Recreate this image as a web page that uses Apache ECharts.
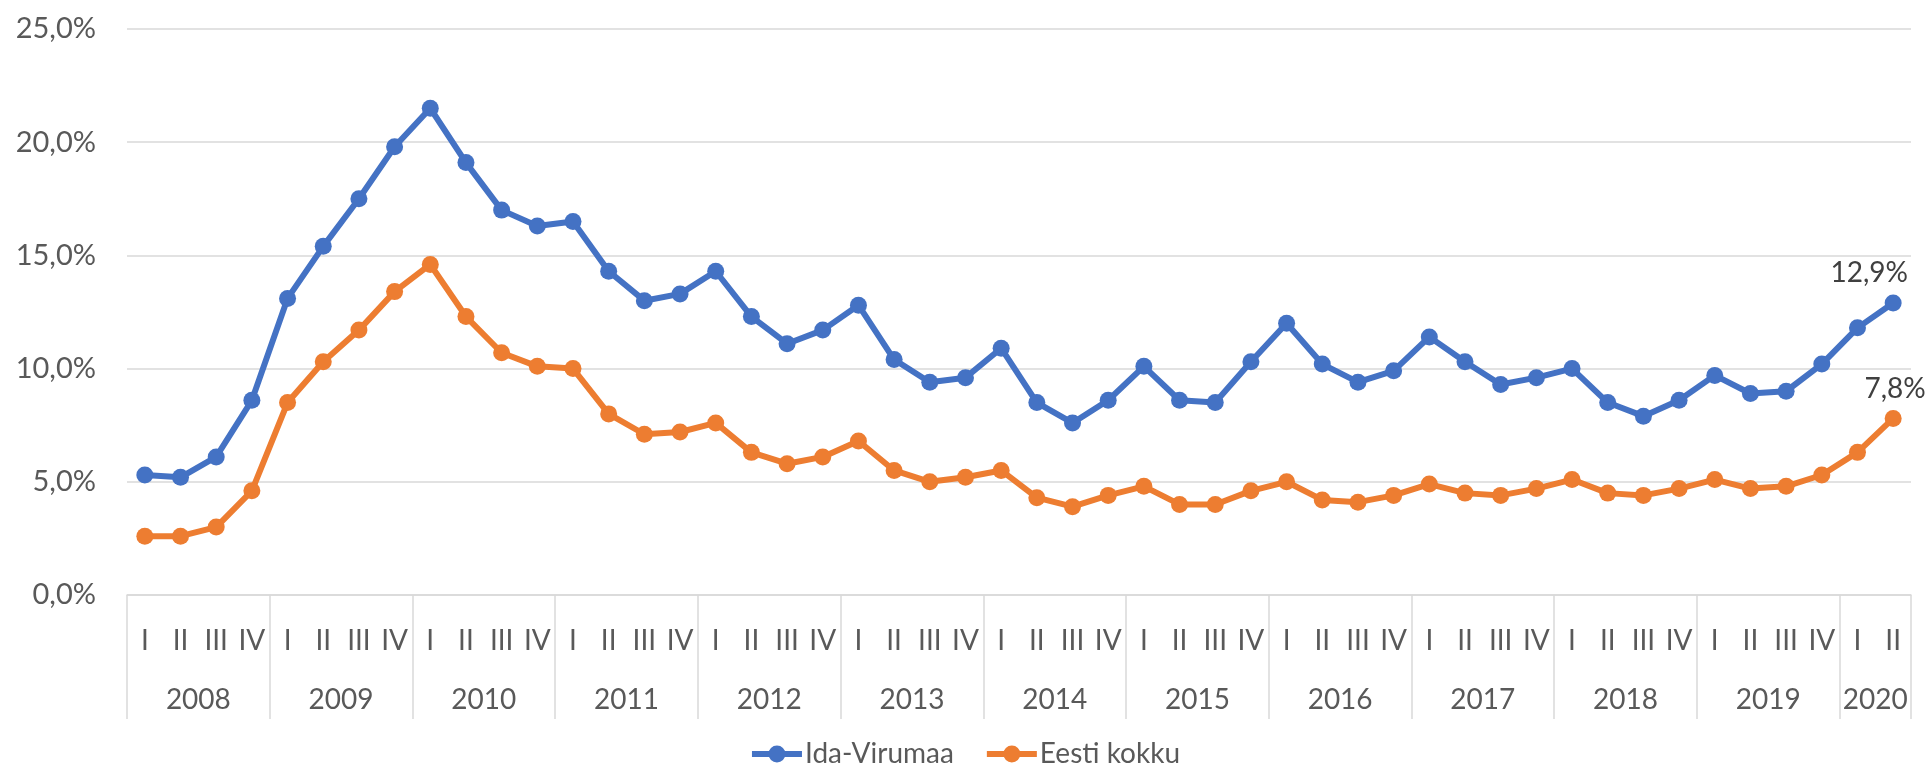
<!DOCTYPE html>
<html>
<head>
<meta charset="utf-8">
<script src="https://cdn.jsdelivr.net/npm/echarts@6/dist/echarts.min.js"></script>
<style>
html,body{margin:0;padding:0;background:#fff;}
#c{width:1932px;height:771px;}
</style>
</head>
<body>
<div id="c"></div>
<script>
const years = ['2008','2009','2010','2011','2012','2013','2014','2015','2016','2017','2018','2019','2020'];
const quarterNames = ['I','II','III','IV'];
const idaVirumaa = [
  5.3, 5.2, 6.1, 8.6,
  13.1, 15.4, 17.5, 19.8,
  21.5, 19.1, 17.0, 16.3,
  16.5, 14.3, 13.0, 13.3,
  14.3, 12.3, 11.1, 11.7,
  12.8, 10.4, 9.4, 9.6,
  10.9, 8.5, 7.6, 8.6,
  10.1, 8.6, 8.5, 10.3,
  12.0, 10.2, 9.4, 9.9,
  11.4, 10.3, 9.3, 9.6,
  10.0, 8.5, 7.9, 8.6,
  9.7, 8.9, 9.0, 10.2,
  11.8, 12.9
];
const eestiKokku = [
  2.6, 2.6, 3.0, 4.6,
  8.5, 10.3, 11.7, 13.4,
  14.6, 12.3, 10.7, 10.1,
  10.0, 8.0, 7.1, 7.2,
  7.6, 6.3, 5.8, 6.1,
  6.8, 5.5, 5.0, 5.2,
  5.5, 4.3, 3.9, 4.4,
  4.8, 4.0, 4.0, 4.6,
  5.0, 4.2, 4.1, 4.4,
  4.9, 4.5, 4.4, 4.7,
  5.1, 4.5, 4.4, 4.7,
  5.1, 4.7, 4.8, 5.3,
  6.3, 7.8
];
const yTicks = [0, 5, 10, 15, 20, 25];

// build category list: one entry per quarter
const cats = [];
const yearOfCat = [];
years.forEach(function (y) {
  quarterNames.forEach(function (q) {
    if (cats.length < idaVirumaa.length) { cats.push(q); yearOfCat.push(y); }
  });
});
// index where the year label is drawn (left of group centre)
const yearLabelIdx = {};
years.forEach(function (y) {
  const idx = [];
  yearOfCat.forEach(function (yy, i) { if (yy === y) idx.push(i); });
  yearLabelIdx[idx[Math.floor((idx.length - 1) / 2)]] = y;
});

const fmt = function (v) { return v.toFixed(1).replace('.', ',') + '%'; };
const FONT = 'Lato';
const TXT = '#595959';
const GRID = '#D9D9D9';
const LEGEND_ICON = 'path://M0,5.5H50V11.5H0Z M16.5,8.5A8.5,8.5 0 1,1 33.5,8.5A8.5,8.5 0 1,1 16.5,8.5Z';

const chart = echarts.init(document.getElementById('c'));
const n = cats.length;
chart.setOption({
  backgroundColor: '#fff',
  animation: false,
  textStyle: { fontFamily: FONT },
  grid: { left: 127, right: 21, top: 29, bottom: 176 },
  legend: {
    top: 735,
    left: 'center',
    itemWidth: 50,
    itemHeight: 17,
    itemGap: 33,
    textStyle: { fontFamily: FONT, fontSize: 28, color: TXT, padding: [0, 0, 0, -2] },
    data: [
      { name: 'Ida-Virumaa', icon: LEGEND_ICON },
      { name: 'Eesti kokku', icon: LEGEND_ICON }
    ]
  },
  xAxis: [
    {
      type: 'category',
      data: cats,
      boundaryGap: true,
      axisLine: { show: true, lineStyle: { color: GRID, width: 1.5 } },
      axisTick: {
        show: true, length: 124, inside: false,
        interval: function (i) { return yearOfCat[i] !== yearOfCat[i - 1]; },
        lineStyle: { color: GRID, width: 1.5 }
      },
      axisLabel: { interval: 0, margin: 32, fontSize: 28, color: TXT, fontFamily: FONT }
    },
    {
      type: 'category',
      data: cats,
      position: 'bottom',
      boundaryGap: true,
      axisLine: { show: false },
      axisTick: { show: false },
      axisLabel: {
        interval: function (i) { return yearLabelIdx[i] !== undefined; },
        formatter: function (v, i) { return yearLabelIdx[i] || ''; },
        margin: 91,
        fontSize: 28,
        color: TXT,
        fontFamily: FONT,
        padding: [0, 0, 0, 1784 / n]
      }
    }
  ],
  yAxis: {
    type: 'value',
    min: yTicks[0],
    max: yTicks[yTicks.length - 1],
    interval: yTicks[1] - yTicks[0],
    axisLine: { show: false },
    axisTick: { show: false },
    splitLine: { lineStyle: { color: GRID, width: 1.5 } },
    axisLabel: { formatter: fmt, margin: 31, fontSize: 29, color: TXT, fontFamily: FONT }
  },
  series: [
    {
      name: 'Ida-Virumaa',
      type: 'line',
      data: idaVirumaa,
      symbol: 'circle',
      symbolSize: 17,
      itemStyle: { color: '#4472C4' },
      lineStyle: { color: '#4472C4', width: 6 },
      label: {
        show: true,
        position: 'top',
        distance: 7,
        offset: [-24, 0],
        fontSize: 28,
        color: '#404040',
        fontFamily: FONT,
        formatter: function (p) { return p.dataIndex === n - 1 ? fmt(p.value) : ''; }
      }
    },
    {
      name: 'Eesti kokku',
      type: 'line',
      data: eestiKokku,
      symbol: 'circle',
      symbolSize: 17,
      itemStyle: { color: '#ED7D31' },
      lineStyle: { color: '#ED7D31', width: 6 },
      label: {
        show: true,
        position: 'top',
        distance: 7,
        offset: [2, 0],
        fontSize: 28,
        color: '#404040',
        fontFamily: FONT,
        formatter: function (p) { return p.dataIndex === n - 1 ? fmt(p.value) : ''; }
      }
    }
  ]
});
</script>
</body>
</html>
